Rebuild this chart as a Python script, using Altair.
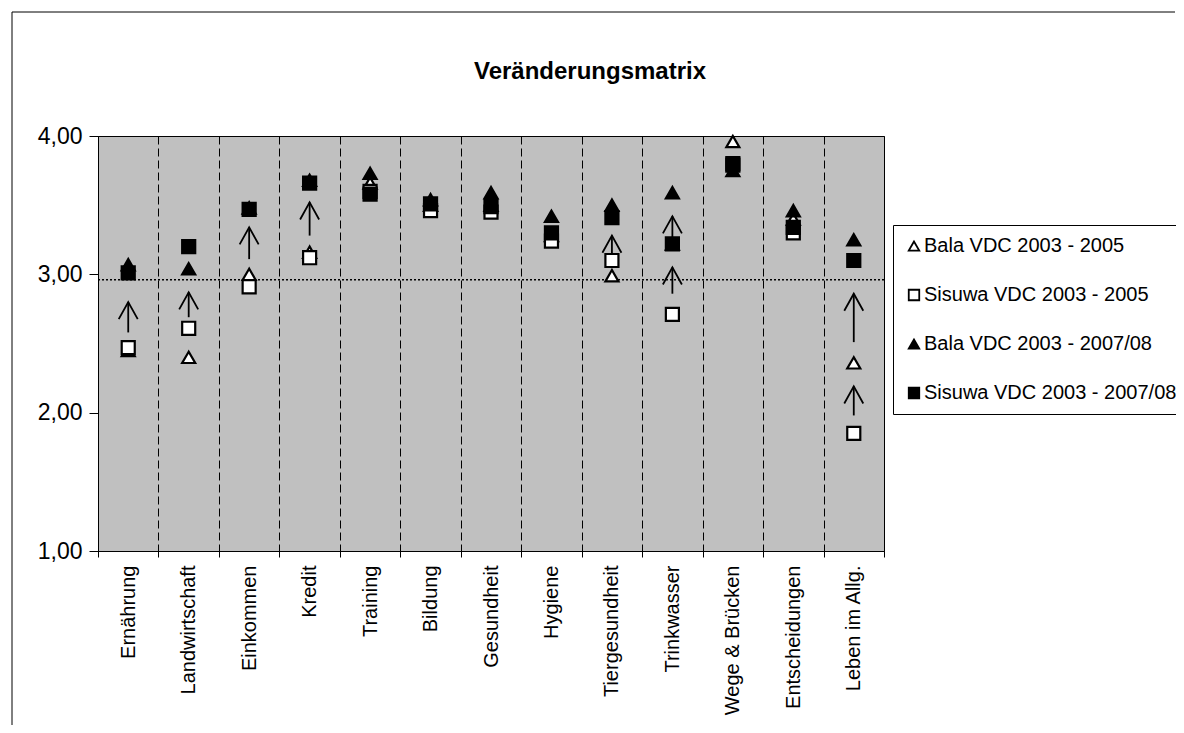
import altair as alt
import pandas as pd

categories = ["Ernährung", "Landwirtschaft", "Einkommen", "Kredit", "Training",
              "Bildung", "Gesundheit", "Hygiene", "Tiergesundheit", "Trinkwasser",
              "Wege & Brücken", "Entscheidungen", "Leben im Allg."]
series_names = ["Bala VDC 2003 - 2005", "Sisuwa VDC 2003 - 2005",
                "Bala VDC 2003 - 2007/08", "Sisuwa VDC 2003 - 2007/08"]
bala_2005 = [2.45, 2.40, 3.00, 3.16, 3.66, 3.50, 3.50, 3.28, 2.99, 3.22, 3.96, 3.40, 2.36]
sisuwa_2005 = [2.47, 2.61, 2.91, 3.12, 3.60, 3.46, 3.45, 3.24, 3.10, 2.71, 3.79, 3.30, 1.85]
bala_2008 = [3.07, 3.04, 3.48, 3.68, 3.73, 3.54, 3.59, 3.42, 3.50, 3.59, 3.75, 3.46, 3.25]
sisuwa_2008 = [3.01, 3.20, 3.47, 3.66, 3.58, 3.51, 3.49, 3.30, 3.41, 3.22, 3.80, 3.34, 3.10]
mean_value = [2.96]
arrow_categories = ["Ernährung", "Landwirtschaft", "Einkommen", "Kredit", "Tiergesundheit",
                    "Trinkwasser", "Trinkwasser", "Leben im Allg.", "Leben im Allg."]
arrow_from = [2.58, 2.69, 3.11, 3.28, 3.15, 3.18, 2.86, 2.51, 1.98]
arrow_to = [2.80, 2.87, 3.34, 3.52, 3.28, 3.42, 3.05, 2.86, 2.19]
y_ticks = [1, 2, 3, 4]

FONT = "Liberation Sans"

rows = []
for name, vals in zip(series_names, [bala_2005, sisuwa_2005, bala_2008, sisuwa_2008]):
    for c, v in zip(categories, vals):
        rows.append({"Kategorie": c, "Serie": name, "Wert": v})
points_df = pd.DataFrame(rows)
arrows_df = pd.DataFrame({"Kategorie": arrow_categories, "von": arrow_from, "bis": arrow_to})
mean_df = pd.DataFrame({"mittel": mean_value})
frame_df = pd.DataFrame({"k": [0]})

x_axis = alt.Axis(title=None, labelAngle=-90, labelFont=FONT, labelFontSize=20,
                  labelColor="black", labelPadding=8, tickBand="extent", tickSize=6,
                  tickColor="black", domainColor="black", grid=True, gridColor="black",
                  gridDash=[8, 4], gridWidth=1, gridOpacity=1, labelLimit=300)
x_scale = alt.Scale(type="band", domain=categories, paddingInner=0, paddingOuter=0)
y_axis = alt.Axis(title=None, values=y_ticks, grid=False, labelFont=FONT, labelFontSize=23,
                  labelColor="black", tickSize=9, labelPadding=7, tickColor="black",
                  domainColor="black",
                  labelExpr="replace(format(datum.value, '.2f'), '.', ',')")
y_scale = alt.Scale(domain=[1, 4], nice=False, zero=False)

x_enc = alt.X("Kategorie:N", scale=x_scale, axis=x_axis)

frame_top = alt.Chart(frame_df).mark_rule(color="black", strokeWidth=1).encode(
    x=alt.value(-86), x2=alt.value(1077), y=alt.value(-124)
)
frame_left = alt.Chart(frame_df).mark_rule(color="black", strokeWidth=1).encode(
    x=alt.value(-86), y=alt.value(-124), y2=alt.value(900)
)

mean_rule = alt.Chart(mean_df).mark_rule(color="black", strokeDash=[2, 2], strokeWidth=1.5).encode(
    y=alt.Y("mittel:Q", scale=y_scale, axis=y_axis)
)

shafts = alt.Chart(arrows_df).mark_rule(color="black", strokeWidth=1.8).encode(
    x=x_enc,
    y=alt.Y("von:Q", scale=y_scale, axis=y_axis),
    y2="bis:Q",
)

heads = alt.Chart(arrows_df).mark_point(
    shape="M-1,1.8L0,0L1,1.8", filled=False, stroke="black", strokeWidth=1.8,
    size=361, opacity=1
).encode(
    x=x_enc,
    y=alt.Y("bis:Q", scale=y_scale, axis=y_axis),
)

legend = alt.Legend(title=None, orient="none", legendX=795, legendY=89,
                    labelFont=FONT, labelFontSize=20, labelColor="black",
                    strokeColor="black", fillColor="white", padding=11,
                    rowPadding=29, symbolSize=110, symbolStrokeColor="black",
                    symbolStrokeWidth=1.8, labelOffset=0, labelLimit=400)

points = alt.Chart(points_df).mark_point(
    filled=True, size=170, strokeWidth=2.2, opacity=1
).encode(
    x=x_enc,
    y=alt.Y("Wert:Q", scale=y_scale, axis=y_axis),
    shape=alt.Shape("Serie:N", scale=alt.Scale(domain=series_names,
                    range=["triangle-up", "square", "triangle-up", "square"]), legend=legend),
    fill=alt.Fill("Serie:N", scale=alt.Scale(domain=series_names,
                  range=["white", "white", "black", "black"]), legend=legend),
    stroke=alt.Stroke("Serie:N", scale=alt.Scale(domain=series_names,
                      range=["black", "black", "black", "black"]), legend=legend),
)

chart = alt.layer(frame_top, frame_left, mean_rule, shafts, heads, points).properties(
    width=786, height=415,
    autosize=alt.AutoSizeParams(type="none"),
    padding={"left": 90, "top": 128, "right": 292, "bottom": 174},
    title=alt.Title("Veränderungsmatrix", font=FONT, fontSize=24, fontWeight="bold",
                    color="black", anchor="middle", frame="group", dx=99, dy=72, offset=0),
).configure_view(
    fill="#C0C0C0", stroke="black", strokeWidth=1
)

chart.save("out.html", embed_options={"renderer": "svg", "actions": False})
